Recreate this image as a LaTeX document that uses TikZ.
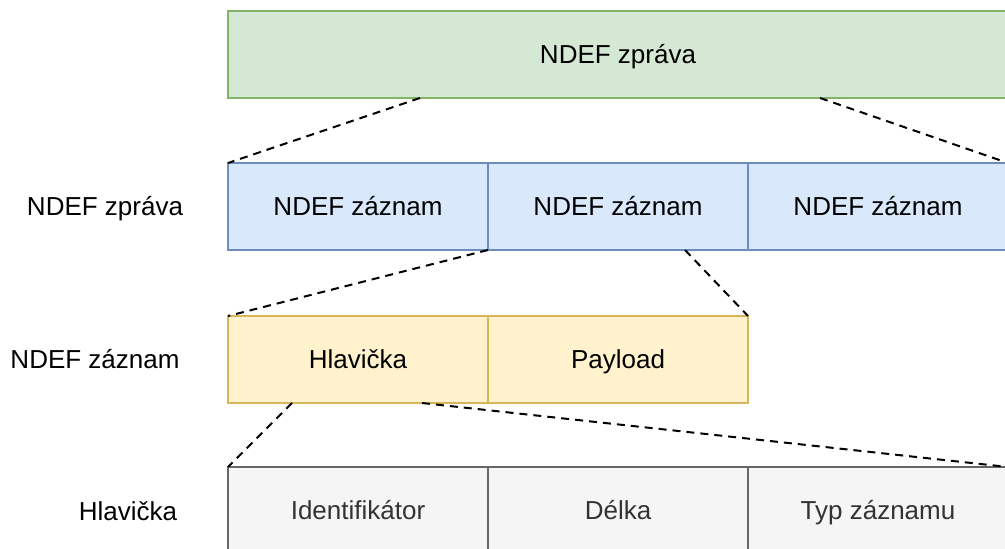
\documentclass[tikz,border=0pt]{standalone}
\usepackage{fontspec}
\setmainfont{Liberation Sans}
\usepackage{tikz}

\definecolor{msgfill}{HTML}{D5E8D4}
\definecolor{msgline}{HTML}{82B366}
\definecolor{recfill}{HTML}{DAE8FC}
\definecolor{recline}{HTML}{6C8EBF}
\definecolor{headfill}{HTML}{FFF2CC}
\definecolor{headline}{HTML}{D6B656}
\definecolor{fieldfill}{HTML}{F5F5F5}
\definecolor{fieldline}{HTML}{666666}
\definecolor{fieldtext}{HTML}{333333}

\tikzset{
    cell/.style={draw, line width=1pt, anchor=north west, outer sep=0pt,
        minimum width=130pt, minimum height=43.5pt, inner sep=0pt,
        text height=9.3pt, text depth=0pt,
        font=\fontsize{13}{15.6}\selectfont},
    msgcell/.style={cell, fill=msgfill, draw=msgline, minimum width=390pt},
    reccell/.style={cell, fill=recfill, draw=recline},
    headcell/.style={cell, fill=headfill, draw=headline},
    fieldcell/.style={cell, fill=fieldfill, draw=fieldline, text=fieldtext},
    rowlabel/.style={inner sep=0pt, text height=9.3pt, text depth=0pt,
        font=\fontsize{13}{15.6}\selectfont},
    zoomline/.style={line width=1pt, dash pattern=on 4pt off 3pt}
}

\begin{document}
\begin{tikzpicture}[x=0.5pt, y=-0.5pt]
        \clip (0, 0) rectangle (1005, 549);

        % top: whole message
        \node[msgcell] (msg) at (228, 11) {NDEF zpráva};

        % rows
        \foreach \t[count=\i] in {NDEF záznam, NDEF záznam, NDEF záznam} {
            \node[reccell] (rec\i) at (\i*260-32, 163) {\t};
        }
        \node[headcell] (head) at (228, 316) {Hlavička};
        \node[headcell] (pay) at (488, 316) {Payload};
        \node[fieldcell] (id) at (228, 467) {Identifikátor};
        \node[fieldcell] (len) at (488, 467) {Délka};
        \node[fieldcell] (type) at (748, 467) {Typ záznamu};

        % row labels
        \node[rowlabel] (lblmsg) at (105, 206) {NDEF zpráva};
        \node[rowlabel] (lblrec) at (95, 359) {NDEF záznam};
        \node[rowlabel] (lblhead) at (128, 511) {Hlavička};

        % zoom lines
        \draw[zoomline] ([xshift=96pt]msg.south west) -- (rec1.north west);
        \draw[zoomline] ([xshift=296pt]msg.south west) -- (rec3.north east);
        \draw[zoomline] (rec2.south west) -- (head.north west);
        \draw[zoomline] ([xshift=98.5pt]rec2.south west) -- (pay.north east);
        \draw[zoomline] ([xshift=32pt]head.south west) -- (id.north west);
        \draw[zoomline] ([xshift=97pt]head.south west) -- (type.north east);
    \end{tikzpicture}
\end{document}
